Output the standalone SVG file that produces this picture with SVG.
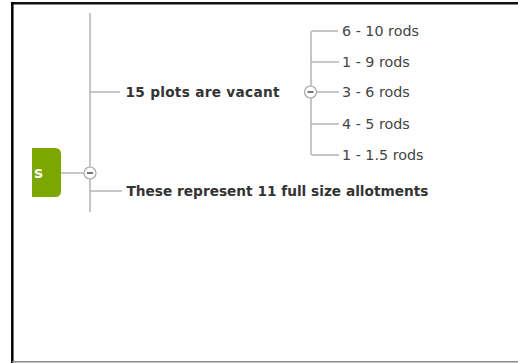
<svg xmlns="http://www.w3.org/2000/svg" width="518" height="363" viewBox="0 0 518 363">
<style>
.ln{stroke:#b4b4b4;stroke-width:1.5;fill:none}
.tb{font-family:"DejaVu Sans",Verdana,sans-serif;font-weight:bold;font-size:13.7px;fill:#333}
.tr{font-family:"DejaVu Sans",Verdana,sans-serif;font-size:14.3px;fill:#444}
.col{fill:#fff;stroke:#a8a8a8;stroke-width:1.2}
.minus{stroke:#555;stroke-width:1.6}
</style>
<rect x="0" y="0" width="518" height="363" fill="#fff"/>
<g id="frame">
<line x1="11" y1="3.2" x2="518" y2="3.2" stroke="#111" stroke-width="2.5"/>
<line x1="12.3" y1="2" x2="12.3" y2="363" stroke="#000" stroke-width="2.5"/>
<line x1="12" y1="361.8" x2="518" y2="361.8" stroke="#8a8a8a" stroke-width="1.5"/>
</g>
<g id="connectors">
<line class="ln" x1="61" y1="173" x2="84" y2="173"/>
<line class="ln" x1="90" y1="13" x2="90" y2="212"/>
<line class="ln" x1="90" y1="92" x2="120" y2="92"/>
<line class="ln" x1="90" y1="191" x2="122" y2="191"/>
<path class="ln" d="M338 31 H313 Q311 31 311 33 V153 Q311 155 313 155 H339"/>
<line class="ln" x1="311" y1="62" x2="339" y2="62"/>
<line class="ln" x1="316" y1="92" x2="339" y2="92"/>
<line class="ln" x1="311" y1="124" x2="339" y2="124"/>
</g>
<g id="root">
<path d="M32 148 H55 Q61 148 61 154 V191 Q61 197 55 197 H32 Z" fill="#7ba700"/>
<text x="34" y="178" font-family="'DejaVu Sans',Verdana,sans-serif" font-weight="bold" font-size="15" fill="#fff">s</text>
<circle class="col" cx="90" cy="173" r="6"/>
<line class="minus" x1="87" y1="173" x2="93" y2="173"/>
</g>
<g id="n-vacant">
<text class="tb" x="125.5" y="97" textLength="154" lengthAdjust="spacing">15 plots are vacant</text>
<circle class="col" cx="310.5" cy="92" r="6"/>
<line class="minus" x1="307.5" y1="92" x2="313.5" y2="92"/>
</g>
<g id="n-allot"><text class="tb" x="126.5" y="196">These represent 11 full size allotments</text></g>
<g id="c1"><text class="tr" x="342" y="36">6 - 10 rods</text></g>
<g id="c2"><text class="tr" x="342" y="67">1 - 9 rods</text></g>
<g id="c3"><text class="tr" x="342" y="97">3 - 6 rods</text></g>
<g id="c4"><text class="tr" x="342" y="129">4 - 5 rods</text></g>
<g id="c5"><text class="tr" x="342" y="160">1 - 1.5 rods</text></g>
</svg>
